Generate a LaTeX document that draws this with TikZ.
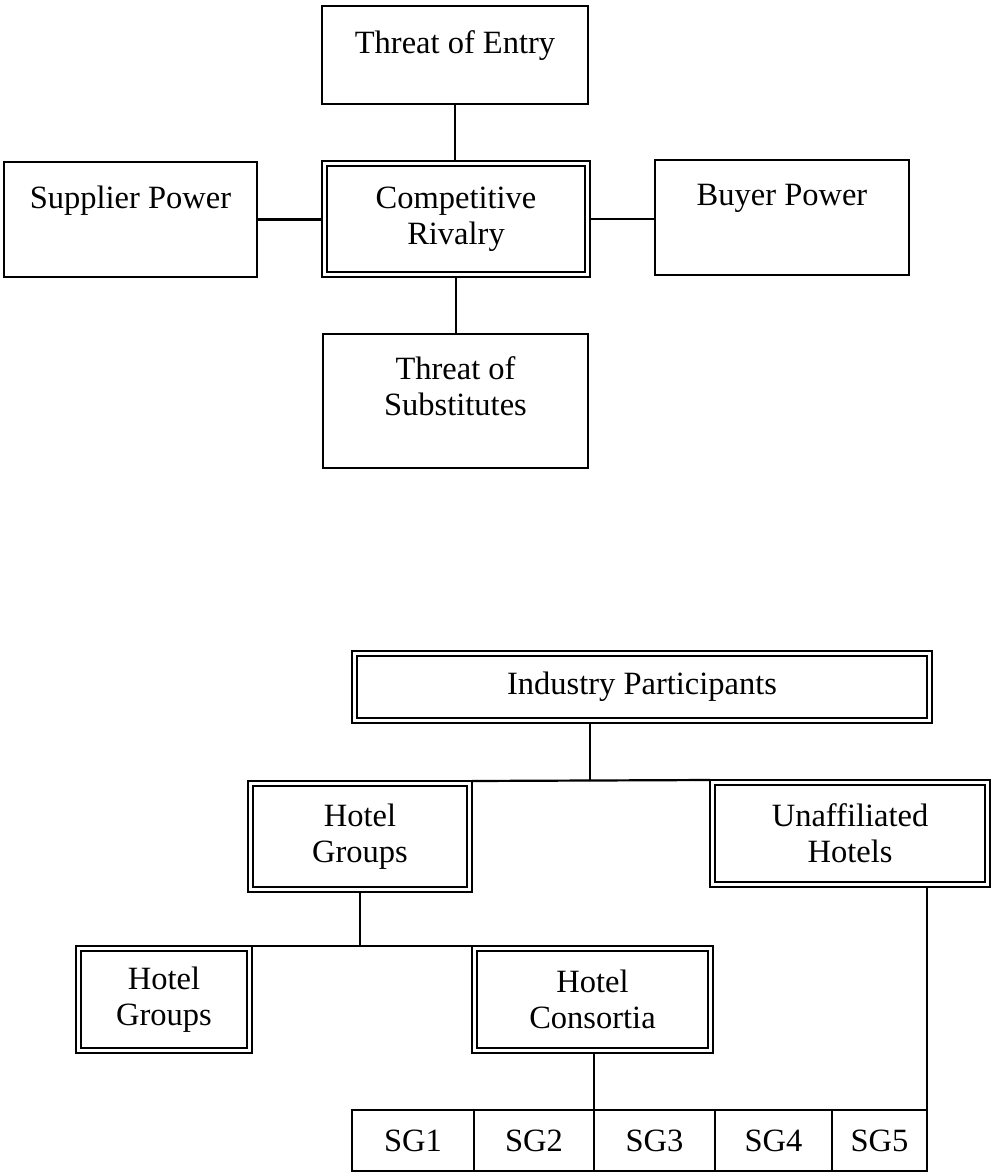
\documentclass[tikz,border=0pt]{standalone}
\usepackage{fontspec}
\setmainfont{Liberation Serif}
\begin{document}
\begin{tikzpicture}[x=0.5pt,y=-0.5pt,
  every node/.style={font=\fontsize{16.25}{18}\selectfont},
  plainbox/.style={draw, line width=1.1pt, inner sep=0pt, outer sep=0pt, align=center},
  dblbox/.style={draw, line width=1.4pt, inner sep=0pt, outer sep=0pt, align=center,
    path picture={\draw[line width=0.8pt]
      ([shift={(2.6pt,-2.6pt)}]path picture bounding box.north west) rectangle
      ([shift={(-2.6pt,2.6pt)}]path picture bounding box.south east);}},
  caption/.style={anchor=north, inner sep=0pt, align=center},
  link/.style={line width=1.1pt}]
\useasboundingbox (0,0) rectangle (996,1173);

% --- five forces ---
\node[plainbox, minimum width=133pt, minimum height=49pt] (TE) at (455,55) {};
\node[caption] (TEt) at ([yshift=-12pt]TE.north) {Threat of Entry};

\node[dblbox, minimum width=134pt, minimum height=58pt] (CR) at (456,219) {Competitive\\Rivalry};

\node[plainbox, minimum width=126.5pt, minimum height=57.5pt] (SP) at (130.5,219.5) {};
\node[caption] (SPt) at ([yshift=-12pt]SP.north) {Supplier Power};

\node[plainbox, minimum width=127pt, minimum height=57.5pt] (BP) at (782,217.5) {};
\node[caption] (BPt) at ([yshift=-12pt]BP.north) {Buyer Power};

\node[plainbox, minimum width=132.5pt, minimum height=67pt] (TS) at (455.5,401) {};
\node[caption] (TSt) at ([yshift=-11pt]TS.north) {Threat of\\Substitutes};

\draw[link] (TE.south) -- (TE.south |- CR.north);
\draw[link] (CR.south) -- (CR.south |- TS.north);
\draw[link] (SP.east) -- (SP.east -| CR.west);
\draw[link] (CR.east) -- (CR.east -| BP.west);

% --- industry participants ---
\node[dblbox, minimum width=290pt, minimum height=36pt] (IP) at (642,687) {Industry Participants};
\node[dblbox, minimum width=112pt, minimum height=55.5pt] (HG) at (360,836.5) {Hotel\\Groups};
\node[dblbox, minimum width=140pt, minimum height=53.5pt] (UH) at (850,833.5) {Unaffiliated\\Hotels};
\node[dblbox, minimum width=88pt, minimum height=53.5pt] (HGb) at (164,999.5) {Hotel\\Groups};
\node[dblbox, minimum width=120.5pt, minimum height=53.5pt] (HC) at (592.5,999.5) {Hotel\\Consortia};

\node[plainbox, minimum width=61pt, minimum height=30.5pt] (sg1) at (413,1140.5) {SG1};
\node[plainbox, minimum width=60pt, minimum height=30.5pt] (sg2) at (534,1140.5) {SG2};
\node[plainbox, minimum width=60.5pt, minimum height=30.5pt] (sg3) at (654.5,1140.5) {SG3};
\node[plainbox, minimum width=58.5pt, minimum height=30.5pt] (sg4) at (773.5,1140.5) {SG4};
\node[plainbox, minimum width=47.5pt, minimum height=30.5pt] (sg5) at (879.5,1140.5) {SG5};

\coordinate (IPdrop) at (590,781);
\draw[link] (IP.south -| IPdrop) -- (IPdrop);
\draw[link] (HG.north east) -- (UH.north west);
\draw[link] (HG.south) -- (HG.south |- HC.north);
\draw[link] (HGb.north east) -- (HC.north west);
\draw[link] (sg3.north west |- HC.south) -- (sg3.north west);
\draw[link] (sg5.north east |- UH.south) -- (sg5.north east);
\end{tikzpicture}
\end{document}
